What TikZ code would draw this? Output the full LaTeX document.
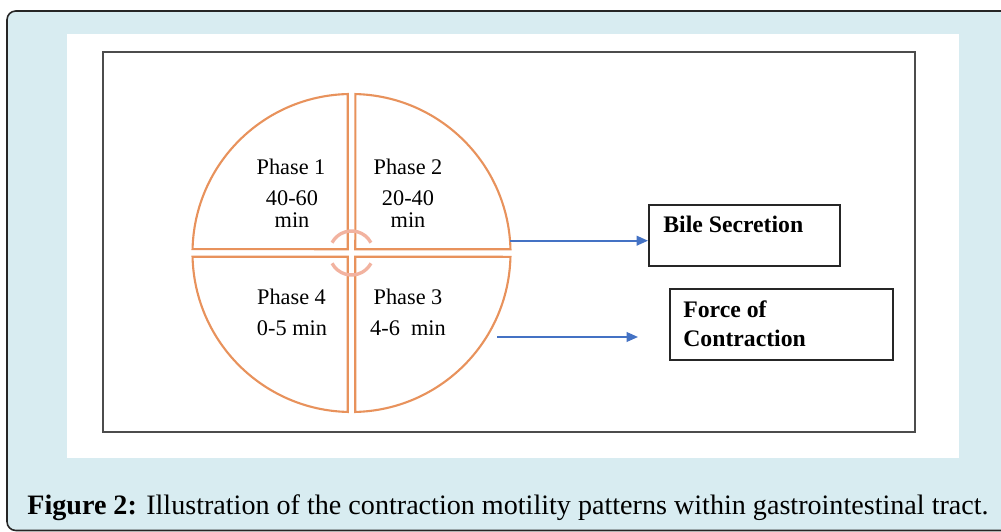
\documentclass[tikz,border=0pt]{standalone}
\usepackage{fontspec}
\setmainfont{Liberation Serif}
\usetikzlibrary{calc, positioning, arrows.meta}

\definecolor{capbg}{HTML}{D8ECF1}
\definecolor{phaseorange}{HTML}{E8925C}
\definecolor{ringpink}{HTML}{F2B3A0}
\definecolor{flowblue}{HTML}{4472C4}

\tikzset{
	quarter/.style={draw=phaseorange, line width=1.2pt},
	ring/.style={draw=ringpink, line width=1.9pt},
	flow/.style={draw=flowblue, line width=1.1pt, -{Triangle[length=6.5pt, width=5.5pt]}},
	outbox/.style={draw=black!85, line width=1.1pt, inner sep=0pt},
	phasetxt/.style={font=\fontsize{12.7}{15}\selectfont, inner sep=0pt},
	boxtxt/.style={font=\fontsize{13.5}{16.5}\selectfont\bfseries, inner sep=0pt, align=left},
}

\begin{document}
\begin{tikzpicture}[x=0.02cm, y=0.02cm]
					\def\r{159};
					\def\g{3.8};
					\pgfmathsetmacro{\dl}{asin(\g/\r)}
					\pgfmathsetmacro{\s}{sqrt(\r-\g)*sqrt(\r+\g)}
					
					\useasboundingbox (0,0) rectangle (1001,531);
					
					\coordinate (c) at (351.5,278);
					
					\begin{scope}
						\clip (0,0) rectangle (1001,531);
						\filldraw [fill=capbg, draw=black!85, line width=0.9pt, rounded corners=5pt] (7,0.5) rectangle (1060,520);
						\fill [white] (67,497) rectangle (959,73);
						\draw [black!70, line width=1.5pt] (103,479) rectangle (915,99);
					\end{scope}
					
					\begin{scope}
						\foreach \a in {0,90,180,270}
							\draw [quarter, rotate around={\a:(c)}] ($ (c) + (\g,\g) $) -- ($ (c) + (\s,\g) $) arc [start angle=\dl, end angle=90-\dl, radius=\r] -- cycle;
						\draw [ring] ($ (c) + (28:22) $) arc [start angle=28, end angle=152, radius=22];
						\draw [ring] ($ (c) + (208:22) $) arc [start angle=208, end angle=332, radius=22];
					\end{scope}
					
					\begin{scope}
						\node [phasetxt] (ph1) at (291,364) {Phase 1};
						\node [phasetxt] (t1) at (292,333) {40-60};
						\node [phasetxt] (m1) at (292,311) {min};
						\node [phasetxt] (ph2) at (408,364) {Phase 2};
						\node [phasetxt] (t2) at (408,333) {20-40};
						\node [phasetxt] (m2) at (408,311) {min};
						\node [phasetxt] (ph4) at (291.5,234) {Phase 4};
						\node [phasetxt] (t4) at (292,203) {0-5 min};
						\node [phasetxt] (ph3) at (408,234) {Phase 3};
						\node [phasetxt] (t3) at (408,203) {4-6\ \ min};
					\end{scope}
					
					\begin{scope}
						\node [outbox, anchor=north west, minimum width=3.82cm, minimum height=1.22cm] (bile) at (648,327) {};
						\node [boxtxt, anchor=west] (bile-txt) at (663,307) {Bile Secretion};
						\node [outbox, anchor=north west, minimum width=4.46cm, minimum height=1.42cm] (force) at (669,243) {};
						\node [boxtxt, anchor=west] (force-txt) at (683,207.5) {Force of\\Contraction};
					\end{scope}
					
					\begin{scope}
						\coordinate (bile-in) at (510,290.3);
						\coordinate (force-in) at (497,194);
						\coordinate (force-out) at (638,194);
						\draw [flow] (bile-in) -- (bile.west |- bile-in);
						\draw [flow] (force-in) -- (force-out);
					\end{scope}
					
					\node [anchor=base west, inner sep=0pt, font=\fontsize{16}{19}\selectfont] (cap) at (27,16) {\textbf{Figure 2:} Illustration of the contraction motility patterns within gastrointestinal tract.};
				\end{tikzpicture}
\end{document}
